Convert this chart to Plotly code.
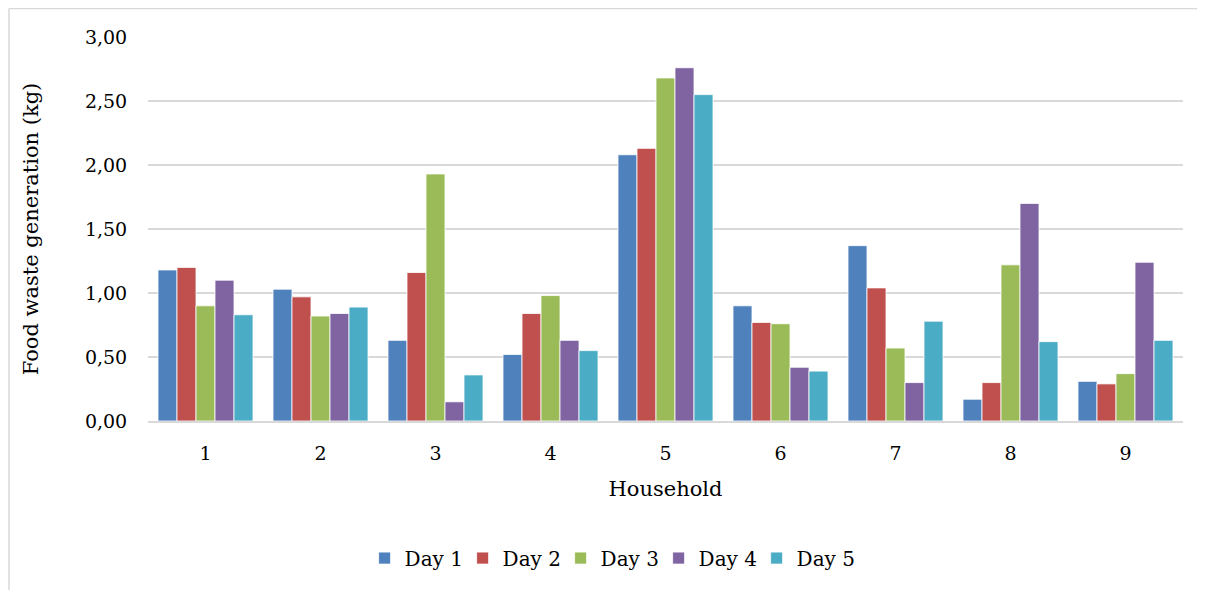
import plotly.graph_objects as go

households = ["1", "2", "3", "4", "5", "6", "7", "8", "9"]
day1 = [1.18, 1.03, 0.63, 0.52, 2.08, 0.90, 1.37, 0.17, 0.31]
day2 = [1.20, 0.97, 1.16, 0.84, 2.13, 0.77, 1.04, 0.30, 0.29]
day3 = [0.90, 0.82, 1.93, 0.98, 2.68, 0.76, 0.57, 1.22, 0.37]
day4 = [1.10, 0.84, 0.15, 0.63, 2.76, 0.42, 0.30, 1.70, 1.24]
day5 = [0.83, 0.89, 0.36, 0.55, 2.55, 0.39, 0.78, 0.62, 0.63]
series_names = ["Day 1", "Day 2", "Day 3", "Day 4", "Day 5"]
series_values = [day1, day2, day3, day4, day5]
colors = ["#4F81BD", "#C0504D", "#9BBB59", "#8064A2", "#4BACC6"]
y_ticks = [0, 0.5, 1.0, 1.5, 2.0, 2.5, 3.0]

FONT = "DejaVu Serif"

fig = go.Figure()
for name, vals, col in zip(series_names, series_values, colors):
    fig.add_trace(go.Bar(
        x=households, y=vals, name=name,
        marker=dict(color=col, line=dict(color="white", width=0.8)),
    ))

# page body has an 8px margin, so the figure is offset by 8px
W, H = 1197, 582
L, R, T = 140, 22, 29
B = H - T - 384
pw, ph = W - L - R, H - T - B

fig.update_layout(
    width=W, height=H,
    margin=dict(l=L, r=R, t=T, b=B, autoexpand=False),
    barmode="group", bargap=0.174, bargroupgap=0,
    paper_bgcolor="white", plot_bgcolor="white",
    separators=",.",
    font=dict(family=FONT, size=19, color="#000000"),
    legend=dict(orientation="h", x=0.446, xanchor="center", y=-0.357, yanchor="middle",
                font=dict(family=FONT, size=20), itemwidth=30, traceorder="normal",
                entrywidth=53, entrywidthmode="pixels"),
    xaxis=dict(
        showgrid=False, showline=True, linecolor="#D9D9D9", linewidth=1.5,
        ticks="outside", ticklen=14, tickcolor="rgba(0,0,0,0)",
        tickfont=dict(family=FONT, size=19),
        title=dict(text="Household", font=dict(family=FONT, size=21), standoff=19),
    ),
    yaxis=dict(
        range=[0, 3], tickvals=y_ticks, tickformat=".2f",
        showgrid=True, gridcolor="#D9D9D9", gridwidth=1.5,
        zeroline=False, showline=False,
        ticks="outside", ticklen=16, tickcolor="rgba(0,0,0,0)",
        tickfont=dict(family=FONT, size=19),
        title=dict(text="Food waste generation (kg)", font=dict(family=FONT, size=21), standoff=40),
    ),
)

# outer chart border (top and left edges visible)
x0 = (1 - L) / pw
y_top = (H - 0.5 - B) / ph
fig.add_shape(type="line", xref="paper", yref="paper", x0=x0, x1=(W + 5 - L) / pw,
              y0=y_top, y1=y_top, line=dict(color="#D9D9D9", width=1.5))
fig.add_shape(type="line", xref="paper", yref="paper", x0=x0, x1=x0,
              y0=y_top, y1=(-B - 10) / ph, line=dict(color="#D9D9D9", width=1.5))

fig.write_html("out.html")
